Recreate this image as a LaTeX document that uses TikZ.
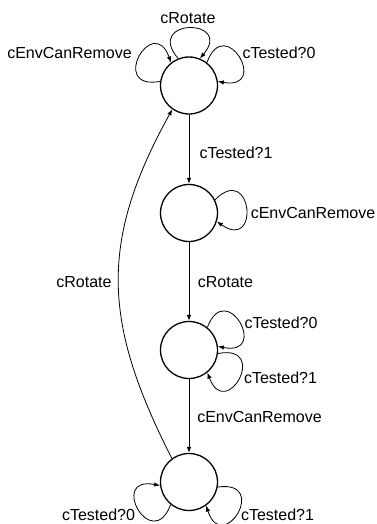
\documentclass[tikz,border=0pt]{standalone}
\usepackage{fontspec}
\setmainfont{Liberation Sans}
\usetikzlibrary{arrows.meta}
\begin{document}
\begin{tikzpicture}[x=1pt,y=1pt,
  state/.style={circle,draw,line width=1.3pt,minimum size=57pt,inner sep=0pt},
  lbl/.style={inner sep=0pt,font=\fontsize{16}{19}\selectfont},
  tr/.style={draw,line width=0.8pt,-{Latex[length=6pt,width=4.5pt]}}]
\useasboundingbox (0,0) rectangle (376,524);
\node[state] (n1) at (189,438.5) {};
\node[state] (n2) at (189,311) {};
\node[state] (n3) at (189,174) {};
\node[state] (n4) at (189,42) {};
% straight transitions
\draw[tr] (n1.south) -- (n2.north);
\draw[tr] (n2.south) -- (n3.north);
\draw[tr] (n3.south) -- (n4.north);
% long return edge
\draw[tr] (n4.126) .. controls +(117:152) and +(241:152) .. (n1.235);
% loops
\draw[tr] (n1.112) .. controls +(130:53) and +(50:53) .. (n1.68);
\draw[tr] (n1.172) .. controls +(190:53) and +(110:53) .. (n1.128);
\draw[tr] (n1.52) .. controls +(70:53) and +(-10:53) .. (n1.8);
\draw[tr] (n2.27) .. controls +(45:53) and +(-35:53) .. (n2.-17);
\draw[tr] (n3.51) .. controls +(69:53) and +(-11:53) .. (n3.7);
\draw[tr] (n3.-7) .. controls +(11:53) and +(-69:53) .. (n3.-51);
\draw[tr] (n4.231) .. controls +(249:53) and +(169:53) .. (n4.187);
\draw[tr] (n4.-10) .. controls +(8:53) and +(-72:53) .. (n4.-54);
% labels
\node[lbl] (l1) at (188,506) {cRotate};
\node[lbl] (l2) at (69.5,471) {cEnvCanRemove};
\node[lbl] (l3) at (279,471) {cTested?0};
\node[lbl] (l4) at (236,371) {cTested?1};
\node[lbl] (l5) at (313,311) {cEnvCanRemove};
\node[lbl] (l6) at (225.5,242) {cRotate};
\node[lbl] (l7) at (281,201) {cTested?0};
\node[lbl] (l8) at (280.5,146) {cTested?1};
\node[lbl] (l9) at (259.5,107) {cEnvCanRemove};
\node[lbl] (l10) at (98.5,9) {cTested?0};
\node[lbl] (l11) at (277.5,9) {cTested?1};
\node[lbl] (l12) at (84,242) {cRotate};
\end{tikzpicture}
\end{document}
